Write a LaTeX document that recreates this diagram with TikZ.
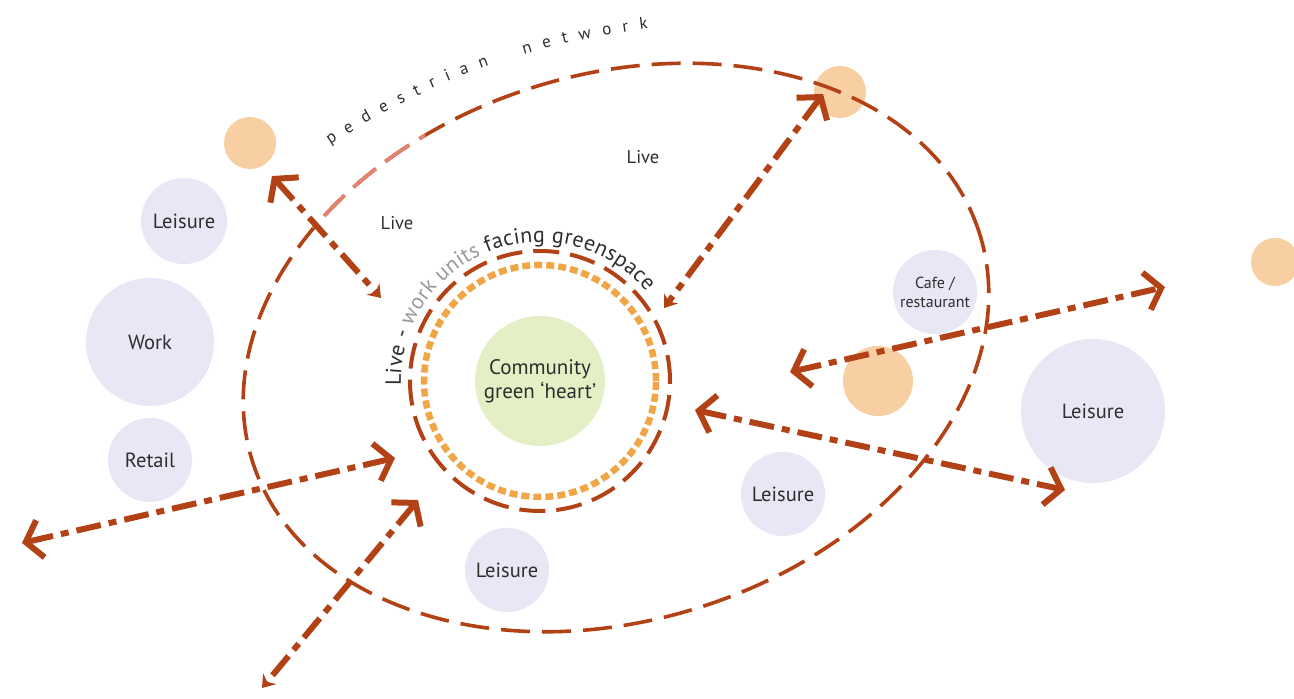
\documentclass[tikz,border=0pt]{standalone}
\usepackage{fontspec}
\setmainfont{PT Sans}
\usetikzlibrary{arrows.meta,decorations.text}

\definecolor{brick}{HTML}{B24216}
\definecolor{blush}{HTML}{E2826F}
\definecolor{lavender}{HTML}{E7E7F5}
\definecolor{peach}{HTML}{F8CFA2}
\definecolor{lime}{HTML}{E4EFC6}
\definecolor{amber}{HTML}{F0A646}
\definecolor{ink}{HTML}{2E2E2E}
\definecolor{softgrey}{HTML}{999999}

\tikzset{
  bigtip/.tip={Straight Barb[length=15pt,width=38pt]},
  smalltip/.tip={Stealth[length=12pt,width=17pt,inset=4pt]},
}

\begin{document}
\begin{tikzpicture}[x=1pt,y=1pt,
  place/.style={circle, fill=lavender, minimum size=#1, inner sep=0pt,
    align=center, text=ink, font=\fontsize{20.5}{23}\selectfont},
  spot/.style={circle, fill=peach, minimum size=#1, inner sep=0pt},
  flow/.style={brick, line width=6pt,
    dash pattern=on 25pt off 8pt on 8pt off 8pt},
  ring/.style={brick, line width=3.6pt, dash pattern=on 29pt off 12pt},
  tag/.style={text=ink, font=\fontsize{18.5}{21}\selectfont},
]
\useasboundingbox (0,0) rectangle (1294,699);
\fill[white] (0,0) rectangle (1294,699);

% destination circles
\node[place=86pt]  (leisureA) at (184,478)  {Leisure};
\node[place=128pt] (work)     at (150,357)  {Work};
\node[place=84pt]  (retail)   at (150,239)  {Retail};
\node[place=84pt]  (leisureB) at (507,129)  {Leisure};
\node[place=84pt]  (leisureC) at (783,205)  {Leisure};
\node[place=84pt, font=\fontsize{16}{19}\selectfont] (cafe) at (935,407) {Cafe /\\restaurant};
\node[place=144pt] (leisureD) at (1093,288) {Leisure};

% nodes of the walking network
\node[spot=52pt] (stopA) at (250,556) {};
\node[spot=52pt] (stopB) at (840,607) {};
\node[spot=48pt] (stopC) at (1275,437) {};
\node[spot=70pt] (stopD) at (878,318) {};

% pedestrian network loop
\draw[ring, rotate around={17.3:(616,351.5)}] (616,351.5) ellipse [x radius=381, y radius=273];
\begin{scope}
  \clip (295,471) rectangle (425,569);
  \draw[ring, blush, rotate around={17.3:(616,351.5)}] (616,351.5) ellipse [x radius=381, y radius=273];
\end{scope}

\path[decorate, decoration={text along path, text align=fit to path,
  text={|\fontsize{17}{20}\selectfont\color{ink}|pedestrian{\hbox to 14pt{\hfil}}network}}]
  (330,554) .. controls (420,612) and (520,655) .. (648,670);

% central green and its frontage
\node[circle, fill=lime, minimum size=130pt, inner sep=0pt, align=center,
  text=ink, font=\fontsize{21}{24}\selectfont] (heart) at (540,318) {Community\\green `heart'};
\draw[amber, line width=6.5pt, dash pattern=on 8pt off 4pt] (heart.center) circle[radius=116];
\draw[brick, line width=4pt, dash pattern=on 26pt off 11pt] (heart.center) circle[radius=130];

\path[decorate, decoration={text along path, text align=fit to path,
  text={|\fontsize{22}{25}\selectfont\color{ink}|Live - |\fontsize{22}{25}\selectfont\color{softgrey}|work units |\fontsize{22}{25}\selectfont\color{ink}|facing greenspace}}]
  ([shift={(182:139)}]heart.center) arc[start angle=182, end angle=40, radius=139];

% labels
\node[tag] (liveA) at (643,542) {Live};
\node[tag] (liveB) at (397,476) {Live};

% movement links
\coordinate (a1s) at (272,523); \coordinate (a1e) at (381,401);
\coordinate (a2s) at (823,605); \coordinate (a2e) at (664,391);
\coordinate (a3s) at (22,156);  \coordinate (a3e) at (395,241);
\coordinate (a4s) at (418,199); \coordinate (a4e) at (262,11);
\coordinate (a5s) at (790,327); \coordinate (a5e) at (1165,412);
\coordinate (a6s) at (695,289); \coordinate (a6e) at (1065,209);

\draw[flow, {bigtip}-{smalltip}] (a1s) -- (a1e);
\draw[flow, {bigtip}-{smalltip}] (a2s) -- (a2e);
\draw[flow, {bigtip}-{bigtip}]   (a3s) -- (a3e);
\draw[flow, {bigtip}-{smalltip}] (a4s) -- (a4e);
\draw[flow, {bigtip}-{bigtip}]   (a5s) -- (a5e);
\draw[flow, {bigtip}-{bigtip}]   (a6s) -- (a6e);
\end{tikzpicture}
\end{document}
